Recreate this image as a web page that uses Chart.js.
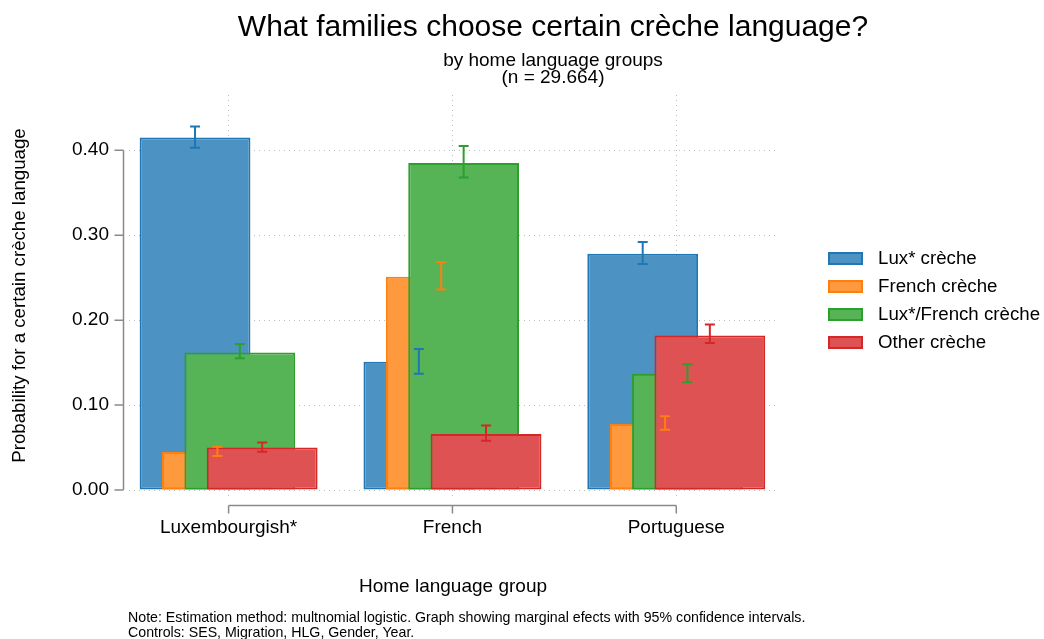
<!DOCTYPE html>
<html>
<head>
<meta charset="utf-8">
<script src="https://cdn.jsdelivr.net/npm/chart.js@4"></script>
<style>
  body { margin: 0; background: #fff; }
  #wrap { position: relative; width: 1044px; height: 639px; font-family: "Liberation Sans", Arial, sans-serif; color: #000; }
  #chart { position: absolute; left: 0; top: 0; }
  .title { position: absolute; left: 553px; transform: translateX(-50%); white-space: nowrap; text-align: center; }
  #title { top: 11px; font-size: 30px; line-height: 30px; }
  #subtitle { top: 50.5px; font-size: 19px; line-height: 17.5px; }
  #note { position: absolute; left: 128px; top: 610px; font-size: 14.2px; line-height: 15px; white-space: nowrap; }
  #legend { position: absolute; left: 828px; top: 243.5px; font-size: 18.7px; }
  .item { position: relative; height: 28px; line-height: 28px; padding-left: 50px; white-space: nowrap; }
  .box { position: absolute; left: 0; top: 8px; width: 31px; height: 9px; border: 2px solid; }
</style>
</head>
<body>
<div id="wrap">
  <canvas id="chart" width="1044" height="639"></canvas>
  <div id="title" class="title">What families choose certain crèche language?</div>
  <div id="subtitle" class="title">by home language groups<br>(n = 29.664)</div>
  <div id="legend"></div>
  <div id="note">Note: Estimation method: multnomial logistic. Graph showing marginal efects with 95% confidence intervals.<br>Controls: SES, Migration, HLG, Gender, Year.</div>
</div>
<script>
// home language groups
const categories = ['Luxembourgish*', 'French', 'Portuguese'];
const yTicks = [0, 0.1, 0.2, 0.3, 0.4];

// marginal probabilities per crèche language, with 95% CI
const luxCreche = [0.415, 0.151, 0.278];
const luxLow = [0.403, 0.137, 0.266];
const luxHigh = [0.428, 0.166, 0.292];

const frenchCreche = [0.045, 0.251, 0.078];
const frenchLow = [0.040, 0.236, 0.071];
const frenchHigh = [0.051, 0.268, 0.087];

const mixedCreche = [0.162, 0.385, 0.137];
const mixedLow = [0.155, 0.368, 0.127];
const mixedHigh = [0.172, 0.405, 0.148];

const otherCreche = [0.050, 0.066, 0.182];
const otherLow = [0.045, 0.058, 0.173];
const otherHigh = [0.056, 0.076, 0.195];

const series = [
    { label: 'Lux* crèche', values: luxCreche, low: luxLow, high: luxHigh, fill: '#4c92c3', line: '#1f77b4' },
    { label: 'French crèche', values: frenchCreche, low: frenchLow, high: frenchHigh, fill: '#ff993e', line: '#ff7f0e' },
    { label: 'Lux*/French crèche', values: mixedCreche, low: mixedLow, high: mixedHigh, fill: '#56b356', line: '#2ca02c' },
    { label: 'Other crèche', values: otherCreche, low: otherLow, high: otherHigh, fill: '#de5253', line: '#d62728' }
];

// bars overlap, so draw them first-to-last (last one on top), then the CIs
const overlapBars = {
    id: 'overlapBars',
    beforeDatasetDraw() {
        return false;
    },
    afterDatasetsDraw(chart) {
        const ctx = chart.ctx;
        const y = chart.scales.y;
        for (let i = 0; i < chart.data.datasets.length; i++) {
            chart.getDatasetMeta(i).controller.draw();
        }
        series.forEach((s, i) => {
            chart.getDatasetMeta(i).data.forEach((bar, j) => {
                const top = y.getPixelForValue(s.high[j]);
                const bot = y.getPixelForValue(s.low[j]);
                ctx.save();
                ctx.strokeStyle = s.line;
                ctx.lineWidth = 2;
                ctx.beginPath();
                ctx.moveTo(bar.x, top);
                ctx.lineTo(bar.x, bot);
                ctx.moveTo(bar.x - 5, top);
                ctx.lineTo(bar.x + 5, top);
                ctx.moveTo(bar.x - 5, bot);
                ctx.lineTo(bar.x + 5, bot);
                ctx.stroke();
                ctx.restore();
            });
        });
    },
    afterDraw(chart) {
        // stata-style axis lines, offset from the plot region
        const ctx = chart.ctx;
        const { x, y } = chart.scales;
        const area = chart.chartArea;
        const ax = area.left - 5.5;
        const ay = area.bottom + 9.5;
        ctx.save();
        ctx.strokeStyle = '#8a8a8a';
        ctx.lineWidth = 1.5;
        ctx.beginPath();
        ctx.moveTo(ax, y.getPixelForValue(yTicks[yTicks.length - 1]));
        ctx.lineTo(ax, y.getPixelForValue(yTicks[0]));
        yTicks.forEach(t => {
            ctx.moveTo(ax - 9, y.getPixelForValue(t));
            ctx.lineTo(ax, y.getPixelForValue(t));
        });
        ctx.moveTo(x.getPixelForValue(0), ay);
        ctx.lineTo(x.getPixelForValue(categories.length - 1), ay);
        categories.forEach((c, i) => {
            ctx.moveTo(x.getPixelForValue(i), ay);
            ctx.lineTo(x.getPixelForValue(i), ay + 8);
        });
        ctx.stroke();
        ctx.restore();
    }
};

const font = { family: '"Liberation Sans", Arial, sans-serif', size: 19 };

const chart = new Chart(document.getElementById('chart'), {
    type: 'bar',
    data: {
        datasets: series.map(s => ({
            label: s.label,
            data: s.values.map((v, i) => ({ x: i, y: v })),
            backgroundColor: s.fill,
            borderColor: s.line,
            borderWidth: 2,
            borderSkipped: false,
            categoryPercentage: 0.4,
            barPercentage: 4.95
        }))
    },
    options: {
        responsive: false,
        animation: false,
        layout: { padding: { left: 0, top: 95, right: 267, bottom: 0 } },
        plugins: {
            legend: { display: false },
            tooltip: { enabled: false }
        },
        scales: {
            x: {
                type: 'linear',
                offset: false,
                min: -0.445,
                max: 2.45,
                afterBuildTicks: s => { s.ticks = categories.map((c, i) => ({ value: i })); },
                afterFit: s => { s.height = 143; },
                ticks: { callback: v => categories[v], font: font, color: '#000', padding: 20, maxRotation: 0 },
                grid: { color: '#bdbdbd', drawTicks: false, offset: false },
                border: { display: false, dash: [1, 4] },
                title: { display: true, text: 'Home language group', font: font, color: '#000', padding: { top: 0, bottom: 41 } }
            },
            y: {
                min: -0.007,
                max: 0.465,
                afterBuildTicks: s => { s.ticks = yTicks.map(v => ({ value: v })); },
                afterFit: s => { s.width = 129; },
                ticks: { callback: v => v.toFixed(2), font: font, color: '#000', padding: 20 },
                grid: { color: '#bdbdbd', drawTicks: false },
                border: { display: false, dash: [1, 4] },
                title: { display: true, text: 'Probability for a certain crèche language', font: { ...font, size: 18.7 }, color: '#000', padding: { top: 9, bottom: 0 } }
            }
        }
    },
    plugins: [overlapBars]
});

// legend built from the datasets
document.getElementById('legend').innerHTML = series.map(s =>
    '<div class="item"><span class="box" style="background:' + s.fill + ';border-color:' + s.line + '"></span>' + s.label + '</div>'
).join('');
</script>
</body>
</html>
